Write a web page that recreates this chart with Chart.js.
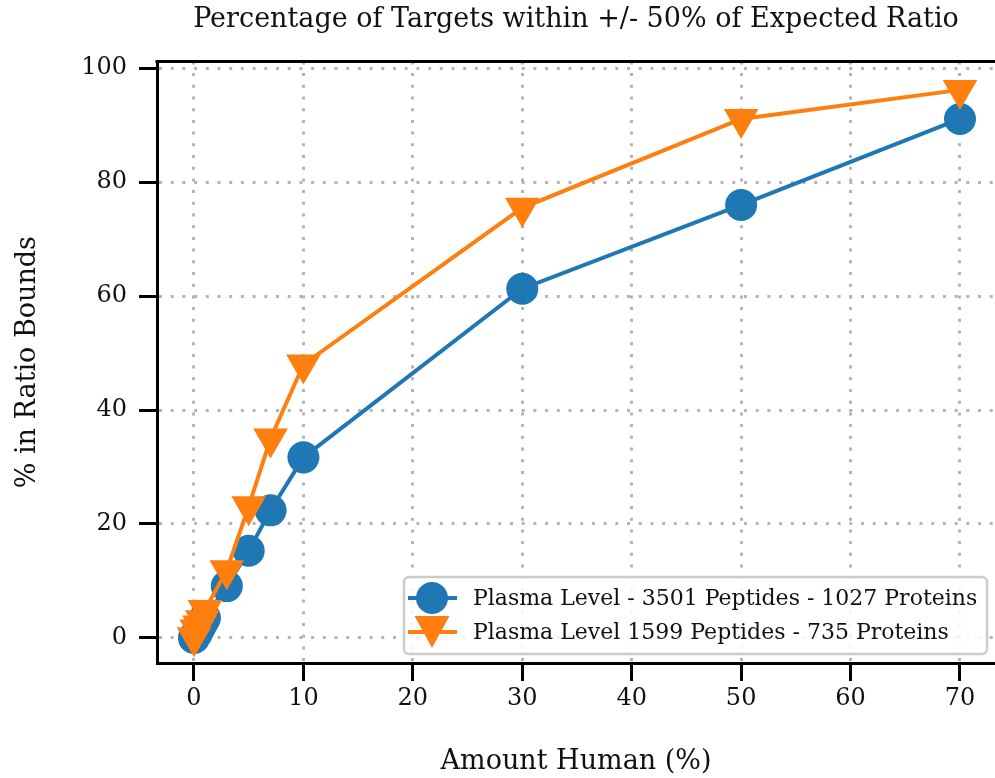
<!DOCTYPE html>
<html>
<head>
<meta charset="utf-8">
<script src="https://cdn.jsdelivr.net/npm/chart.js@4/dist/chart.umd.min.js"></script>
<style>
  html, body { margin: 0; padding: 0; background: #fff; overflow: hidden; }
  #wrap { width: 995px; height: 778px; }
</style>
</head>
<body>
<div id="wrap"><canvas id="ratioChart" width="995" height="778"></canvas></div>
<script>
// data
const amountHuman = [0, 0.25, 0.5, 0.75, 1, 3, 5, 7, 10, 30, 50, 70];
const plasma3501 = [0, 0.8, 1.7, 2.6, 3.5, 9.1, 15.3, 22.4, 31.7, 61.3, 76.0, 91.1];
const plasma1599 = [0.1, 1.5, 2.2, 3.1, 4.9, 11.9, 23.1, 35.0, 48.0, 75.5, 91.1, 96.2];
const seriesLabels = [
  'Plasma Level - 3501 Peptides - 1027 Proteins',
  'Plasma Level 1599 Peptides - 735 Proteins'
];
const xTickStep = 10;
const yTickStep = 20;

const BLUE = '#1f77b4';
const ORANGE = '#ff7f0e';
const FONT = "'DejaVu Serif', serif";

// top spine (matplotlib box; the right side is cut off in the original)
const topSpine = {
  id: 'topSpine',
  afterDraw(chart) {
    const { ctx, chartArea } = chart;
    ctx.save();
    ctx.strokeStyle = '#000';
    ctx.lineWidth = 3;
    ctx.beginPath();
    ctx.moveTo(chartArea.left - 1.5, chartArea.top);
    ctx.lineTo(chartArea.right, chartArea.top);
    ctx.stroke();
    ctx.restore();
  }
};

// legend box in the lower right, line + marker like matplotlib
const boxLegend = {
  id: 'boxLegend',
  afterDraw(chart) {
    const { ctx } = chart;
    const x = 404, y = 577, w = 583, h = 77;
    ctx.save();
    ctx.fillStyle = 'rgba(255,255,255,0.85)';
    ctx.strokeStyle = '#cccccc';
    ctx.lineWidth = 2.5;
    ctx.beginPath();
    ctx.roundRect(x, y, w, h, 5);
    ctx.fill();
    ctx.stroke();

    chart.data.datasets.forEach((ds, i) => {
      const rowY = y + 21 + i * 34;
      ctx.strokeStyle = ds.borderColor;
      ctx.lineWidth = 4;
      ctx.beginPath();
      ctx.moveTo(408, rowY);
      ctx.lineTo(457, rowY);
      ctx.stroke();
      ctx.fillStyle = ds.backgroundColor;
      ctx.beginPath();
      if (ds.pointStyle === 'circle') {
        ctx.arc(432, rowY, 16, 0, Math.PI * 2);
      } else {
        ctx.moveTo(414.5, rowY - 16);
        ctx.lineTo(449.5, rowY - 16);
        ctx.lineTo(432, rowY + 16);
        ctx.closePath();
      }
      ctx.fill();
      ctx.fillStyle = '#111';
      ctx.font = '22px ' + FONT;
      ctx.textBaseline = 'middle';
      ctx.fillText(ds.label, 473, rowY + 1);
    });
    ctx.restore();
  }
};

const gridOpts = {
  color: '#b4b4b4',
  lineWidth: 3,
  tickColor: '#000',
  tickWidth: 3,
  tickLength: 18,
  tickBorderDash: []
};
const borderOpts = { color: '#000', width: 3, dash: [3, 8.7] };

const ctx = document.getElementById('ratioChart').getContext('2d');
new Chart(ctx, {
  type: 'line',
  data: {
    datasets: [
      {
        label: seriesLabels[0],
        data: amountHuman.map((x, i) => ({ x, y: plasma3501[i] })),
        borderColor: BLUE,
        backgroundColor: BLUE,
        borderWidth: 4,
        pointStyle: 'circle',
        pointRadius: 16,
        pointBorderWidth: 0,
        order: 2
      },
      {
        label: seriesLabels[1],
        data: amountHuman.map((x, i) => ({ x, y: plasma1599[i] })),
        borderColor: ORANGE,
        backgroundColor: ORANGE,
        borderWidth: 4,
        pointStyle: 'triangle',
        rotation: 180,
        pointRadius: 20,
        pointBorderWidth: 0,
        order: 1
      }
    ]
  },
  options: {
    responsive: false,
    animation: false,
    layout: { autoPadding: false, padding: 0 },
    plugins: {
      legend: { display: false },
      tooltip: { enabled: false },
      title: {
        display: true,
        fullSize: false,
        text: 'Percentage of Targets within +/- 50% of Expected Ratio',
        color: '#111',
        font: { family: FONT, size: 27, weight: 'normal' },
        padding: { top: 4, bottom: 25 }
      }
    },
    scales: {
      x: {
        type: 'linear',
        min: -3.38,
        max: 73.2,
        afterBuildTicks: s => {
          const t = [];
          for (let v = 0; v <= 70; v += xTickStep) t.push({ value: v });
          s.ticks = t;
        },
        afterFit: s => { s.height = 115; },
        border: borderOpts,
        grid: gridOpts,
        ticks: { color: '#111', padding: 3, maxRotation: 0, font: { family: FONT, size: 24 } },
        title: {
          display: true,
          text: 'Amount Human (%)',
          color: '#111',
          font: { family: FONT, size: 27 },
          padding: { top: 0, bottom: 0 }
        }
      },
      y: {
        min: -4.4,
        max: 101.2,
        afterBuildTicks: s => {
          const t = [];
          for (let v = 0; v <= 100; v += yTickStep) t.push({ value: v });
          s.ticks = t;
        },
        afterFit: s => { s.width = 157; },
        border: borderOpts,
        grid: gridOpts,
        ticks: { color: '#111', padding: 12, font: { family: FONT, size: 24 } },
        title: {
          display: true,
          text: '% in Ratio Bounds',
          color: '#111',
          font: { family: FONT, size: 27 },
          padding: { top: 12, bottom: 0 }
        }
      }
    }
  },
  plugins: [topSpine, boxLegend]
});
</script>
</body>
</html>
